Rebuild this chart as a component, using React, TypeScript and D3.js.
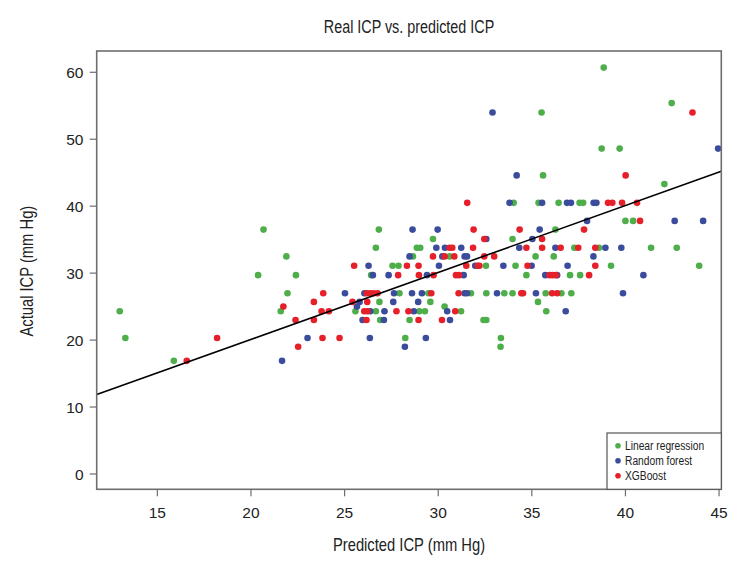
import React from "react";
import * as d3 from "d3";

type Pt = [number, number];

const title = "Real ICP vs. predicted ICP";
const xLabel = "Predicted ICP (mm Hg)";
const yLabel = "Actual ICP (mm Hg)";
const seriesNames = ["Linear regression", "Random forest", "XGBoost"];
const seriesColors = ["#4dae4a", "#3a4c9b", "#e5202a"];

const xTicks = [15, 20, 25, 30, 35, 40, 45];
const yTicks = [0, 10, 20, 30, 40, 50, 60];
const xDomain: [number, number] = [11.76, 45.12];
const yDomain: [number, number] = [-2.29, 63.18];

const fitIntercept = 0.1;
const fitSlope = 1.0;

const linearPts: Pt[] = [
  [20.67, 36.5], [20.38, 29.7], [12.99, 24.3], [13.29, 20.3], [15.88, 16.9], [26.83, 36.5],
  [26.67, 33.8], [28.86, 33.8], [21.89, 32.5], [28.65, 32.5], [27.56, 31.1], [27.88, 31.1],
  [22.4, 29.7], [26.42, 29.7], [21.95, 27.0], [27.93, 27.0], [26.86, 25.7], [21.59, 24.3],
  [25.58, 24.3], [26.67, 24.3], [28.99, 24.3], [26.9, 23.0], [28.47, 23.0], [28.24, 20.3],
  [34.03, 40.5], [35.36, 40.5], [36.43, 40.5], [36.26, 36.5], [29.72, 35.1], [33.97, 35.1],
  [29.04, 33.8], [30.61, 32.5], [32.55, 31.1], [34.13, 31.1], [35.2, 32.5], [36.17, 32.5],
  [34.71, 29.7], [29.48, 27.0], [31.75, 27.0], [32.57, 27.0], [33.53, 27.0], [33.97, 27.0],
  [35.74, 27.0], [29.58, 25.7], [30.34, 25.0], [35.33, 25.7], [29.29, 24.3], [31.22, 24.3],
  [35.77, 24.3], [32.42, 23.0], [32.57, 23.0], [33.35, 20.3], [33.33, 19.0],
  [42.08, 43.3], [37.55, 40.5], [37.74, 40.5], [40.0, 37.8], [40.41, 37.8], [37.27, 33.8],
  [38.59, 33.8], [41.37, 33.8], [42.74, 33.8], [39.23, 31.1], [43.94, 31.1], [37.04, 29.7],
  [37.58, 29.7], [36.58, 27.0], [37.11, 27.0],
  [38.84, 60.7], [42.47, 55.4], [35.52, 54.0], [38.73, 48.6], [39.69, 48.6], [35.6, 44.6],
];

const forestPts: Pt[] = [
  [28.63, 36.5], [28.47, 32.5], [26.28, 31.1], [26.51, 29.7], [27.35, 29.7], [25.02, 27.0],
  [26.06, 27.0], [27.64, 27.0], [28.6, 27.0], [25.8, 25.7], [27.6, 25.7], [28.93, 25.7],
  [25.66, 25.0], [26.37, 24.3], [27.13, 24.3], [28.7, 24.3], [25.96, 23.0], [27.1, 23.0],
  [23.02, 20.3], [26.35, 20.3], [28.22, 19.0], [21.66, 16.9],
  [33.81, 40.5], [35.55, 40.5], [29.97, 36.5], [35.42, 36.5], [32.57, 35.1], [35.03, 35.1],
  [29.9, 33.8], [30.36, 33.8], [31.23, 33.8], [34.33, 33.8], [36.26, 33.8], [30.22, 32.5],
  [31.41, 32.5], [31.54, 32.5], [30.04, 31.1], [31.98, 31.1], [33.48, 31.1], [34.99, 31.1],
  [29.4, 29.7], [31.36, 29.7], [35.72, 29.7], [29.13, 27.0], [31.41, 27.0], [31.54, 27.0],
  [33.14, 27.0], [35.22, 27.0], [30.48, 24.3], [30.63, 23.0], [29.34, 20.3],
  [36.88, 40.5], [37.09, 40.5], [38.3, 40.5], [38.45, 40.5], [37.95, 37.8], [42.63, 37.8],
  [44.15, 37.8], [38.93, 33.8], [39.78, 33.8], [38.29, 32.5], [36.91, 31.1], [36.35, 29.7],
  [40.96, 29.7], [39.87, 27.0], [36.81, 24.3],
  [32.9, 54.0], [44.95, 48.6], [34.19, 44.6],
];

const xgbPts: Pt[] = [
  [18.19, 20.3], [16.57, 16.9], [25.51, 31.1], [28.33, 31.1], [28.95, 31.1], [27.86, 29.7],
  [28.97, 29.7], [23.86, 27.0], [26.19, 27.0], [26.37, 27.0], [26.55, 27.0], [26.76, 27.0],
  [21.73, 25.0], [23.36, 25.7], [25.42, 25.7], [26.21, 25.7], [23.77, 24.3], [24.16, 24.3],
  [26.05, 24.3], [26.22, 24.3], [27.77, 24.3], [28.41, 24.3], [22.38, 23.0], [23.36, 23.0],
  [26.17, 23.0], [28.95, 23.0], [23.82, 20.3], [24.73, 20.3], [22.52, 19.0],
  [31.55, 40.5], [31.89, 36.5], [34.35, 36.5], [32.46, 35.1], [35.55, 35.1], [30.61, 33.8],
  [30.75, 33.8], [31.86, 33.8], [34.71, 33.8], [35.55, 33.8], [29.72, 32.5], [30.34, 32.5],
  [30.86, 32.5], [32.46, 32.5], [32.99, 32.5], [31.5, 31.1], [32.12, 31.1], [32.2, 31.1],
  [34.77, 31.1], [29.75, 29.7], [30.95, 29.7], [31.11, 29.7], [35.95, 29.7], [36.11, 29.7],
  [36.29, 29.7], [29.63, 27.0], [31.09, 27.0], [34.44, 27.0], [34.53, 27.0], [36.08, 27.0],
  [36.35, 27.0], [30.91, 24.3], [30.2, 23.0],
  [39.07, 40.5], [39.3, 40.5], [39.82, 40.5], [40.62, 40.5], [40.78, 37.8], [37.79, 36.5],
  [36.54, 33.8], [37.48, 33.8], [38.39, 33.8], [38.39, 31.1], [38.06, 29.7],
  [43.58, 54.0], [40.01, 44.6],
];

const allSeries: Pt[][] = [linearPts, forestPts, xgbPts];

const W = 749;
const H = 563;
const plot = { left: 96.7, top: 51, right: 721.3, bottom: 489.3 };
const sans = "'Liberation Sans', Arial, Helvetica, sans-serif";
const axisColor = "#6e6e6e";
const textColor = "#222";

function NarrowText(props: {
  x: number;
  y: number;
  size: number;
  anchor?: "start" | "middle" | "end";
  rotate?: number;
  children: React.ReactNode;
}) {
  const { x, y, size, anchor = "start", rotate = 0, children } = props;
  return (
    <text
      transform={`translate(${x},${y}) rotate(${rotate}) scale(0.82,1)`}
      textAnchor={anchor}
      fontFamily={sans}
      fontSize={size}
      fill={textColor}
    >
      {children}
    </text>
  );
}

export default function App() {
  const x = d3.scaleLinear().domain(xDomain).range([plot.left, plot.right]);
  const y = d3.scaleLinear().domain(yDomain).range([plot.bottom, plot.top]);
  const line = d3
    .line<number>()
    .x((d) => x(d))
    .y((d) => y(fitIntercept + fitSlope * d));

  const legend = { x: 607, y: 433, w: plot.right - 607, h: plot.bottom - 433 };

  return (
    <svg
      width={W}
      height={H}
      style={{ position: "absolute", left: 0, top: 0, background: "#fff" }}
    >
      <defs>
        <clipPath id="plotclip">
          <rect x={plot.left} y={plot.top} width={plot.right - plot.left} height={plot.bottom - plot.top} />
        </clipPath>
      </defs>
      <NarrowText x={(plot.left + plot.right) / 2} y={33} size={17.5} anchor="middle">
        {title}
      </NarrowText>

      {allSeries.map((pts, si) => (
        <g key={si} fill={seriesColors[si]}>
          {pts.map((p, i) => (
            <circle key={i} cx={x(p[0])} cy={y(p[1])} r={3.3} />
          ))}
        </g>
      ))}

      <path
        d={line(xDomain) || ""}
        stroke="#000"
        strokeWidth={1.6}
        fill="none"
        clipPath="url(#plotclip)"
      />

      <rect
        x={plot.left}
        y={plot.top}
        width={plot.right - plot.left}
        height={plot.bottom - plot.top}
        fill="none"
        stroke={axisColor}
        strokeWidth={1.6}
      />

      {yTicks.map((t) => (
        <g key={t}>
          <line x1={plot.left - 7} x2={plot.left} y1={y(t)} y2={y(t)} stroke={axisColor} strokeWidth={1.2} />
          <text x={83.5} y={y(t) + 5.6} textAnchor="end" fontFamily={sans} fontSize={15.5} fill={textColor}>
            {t}
          </text>
        </g>
      ))}
      {xTicks.map((t) => (
        <g key={t}>
          <line x1={x(t)} x2={x(t)} y1={plot.bottom} y2={plot.bottom + 7} stroke={axisColor} strokeWidth={1.2} />
          <text x={x(t)} y={517.8} textAnchor="middle" fontFamily={sans} fontSize={15.5} fill={textColor}>
            {t}
          </text>
        </g>
      ))}

      <NarrowText x={(plot.left + plot.right) / 2} y={550.5} size={18} anchor="middle">
        {xLabel}
      </NarrowText>
      <NarrowText x={32.5} y={(plot.top + plot.bottom) / 2 + 1} size={18} anchor="middle" rotate={-90}>
        {yLabel}
      </NarrowText>

      <rect x={legend.x} y={legend.y} width={legend.w} height={legend.h} fill="#fff" stroke="#555" strokeWidth={1.2} />
      {seriesNames.map((n, i) => (
        <g key={n}>
          <circle cx={618} cy={445.7 + i * 15} r={2.8} fill={seriesColors[i]} />
          <NarrowText x={625} y={445.7 + i * 15 + 4.4} size={12.5}>
            {n}
          </NarrowText>
        </g>
      ))}
    </svg>
  );
}
